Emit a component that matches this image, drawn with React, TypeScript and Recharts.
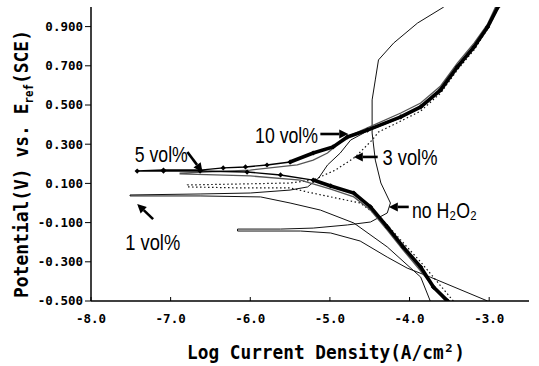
import { LineChart, Line, XAxis, YAxis, ReferenceLine, ReferenceDot } from 'recharts';

const X_TICKS = [-8, -7, -6, -5, -4, -3];
const Y_TICKS = [-0.5, -0.3, -0.1, 0.1, 0.3, 0.5, 0.7, 0.9];

// log i (A/cm2) and E (V vs SCE), cathodic end -> Ecorr -> anodic end
const vol10LogI = [-3.52, -3.7, -3.86, -4.08, -4.28, -4.49, -4.7, -4.99, -5.21, -5.62, -6.04, -6.63, -7.09, -7.42, -7.09, -6.63, -6.34, -6.06, -5.79, -5.5, -5.21, -4.96, -4.78, -4.53, -4.11, -3.86, -3.61, -3.4, -3.19, -3.02, -2.89];
const vol10E = [-0.5, -0.429, -0.327, -0.224, -0.122, -0.02, 0.051, 0.087, 0.117, 0.143, 0.158, 0.163, 0.163, 0.163, 0.168, 0.168, 0.179, 0.184, 0.194, 0.209, 0.255, 0.286, 0.337, 0.372, 0.439, 0.49, 0.577, 0.694, 0.796, 0.898, 1.0];

const vol5LogI = [-3.55, -3.67, -3.86, -4.08, -4.28, -4.49, -4.7, -4.99, -5.37, -6.0, -6.88, -6.88, -6.59, -6.0, -5.41, -5.21, -5.03, -4.81, -4.53, -4.11, -3.86, -3.61, -3.4, -3.19, -3.02, -2.92];
const vol5E = [-0.5, -0.444, -0.347, -0.24, -0.138, -0.036, 0.031, 0.071, 0.117, 0.138, 0.148, 0.153, 0.158, 0.168, 0.194, 0.219, 0.255, 0.332, 0.383, 0.459, 0.51, 0.597, 0.714, 0.816, 0.913, 1.0];

const vol3LogI = [-3.45, -3.65, -3.86, -4.11, -4.36, -4.62, -4.93, -5.28, -5.5, -6.13, -6.79, -6.79, -6.13, -5.5, -5.21, -4.93, -4.68, -4.47, -4.39, -4.11, -3.86, -3.61, -3.4, -3.19, -3.02, -2.89];
const vol3E = [-0.5, -0.403, -0.301, -0.189, -0.077, 0.0, 0.026, 0.056, 0.077, 0.077, 0.082, 0.092, 0.097, 0.102, 0.117, 0.168, 0.235, 0.321, 0.362, 0.418, 0.469, 0.561, 0.679, 0.781, 0.888, 0.99];

const vol1LogI = [-3.74, -3.86, -4.28, -4.7, -5.12, -5.5, -5.87, -6.63, -7.51, -7.51, -6.63, -6.0, -5.5, -5.28, -5.14, -5.03, -4.87, -4.74, -4.53, -4.11, -3.86, -3.61, -3.4, -3.19, -3.02, -2.89];
const vol1E = [-0.5, -0.378, -0.224, -0.102, -0.036, 0.0, 0.031, 0.036, 0.036, 0.041, 0.046, 0.051, 0.066, 0.082, 0.128, 0.194, 0.255, 0.321, 0.367, 0.434, 0.485, 0.571, 0.689, 0.791, 0.893, 0.995];

const noneLogI = [-3.02, -3.74, -4.03, -4.28, -4.62, -4.99, -5.37, -6.16, -6.16, -5.62, -5.21, -4.78, -4.49, -4.28, -4.24, -4.36, -4.43, -4.47, -4.47, -4.43, -4.39, -4.2, -3.9, -3.57];
const noneE = [-0.5, -0.378, -0.332, -0.276, -0.194, -0.153, -0.143, -0.143, -0.133, -0.133, -0.128, -0.112, -0.097, -0.051, 0.0, 0.102, 0.219, 0.357, 0.526, 0.628, 0.73, 0.816, 0.918, 1.0];

const toPoints = (xs: number[], ys: number[]) => xs.map((x, i) => ({ x, y: ys[i] }));

const vol10 = toPoints(vol10LogI, vol10E);
// the heavily marked part of the 10 vol% curve looks bold; the low-current tail is thin
const vol10Bold = vol10.map((p) => ({ x: p.x, y: p.x >= -5.6 ? p.y : null }));
const vol5 = toPoints(vol5LogI, vol5E);
const vol3 = toPoints(vol3LogI, vol3E);
const vol1 = toPoints(vol1LogI, vol1E);
const none = toPoints(noneLogI, noneE);

// curve labels: text anchor + arrow (from -> to), in data units
const notes = [
  { id: 'v5', text: '5 vol%', at: [-7.45, 0.209], from: [-6.79, 0.26], to: [-6.6, 0.158], w: 53 },
  { id: 'v10', text: '10 vol%', at: [-5.94, 0.306], from: [-5.12, 0.352], to: [-4.77, 0.352], w: 63 },
  { id: 'v3', text: '3 vol%', at: [-4.34, 0.194], from: [-4.4, 0.235], to: [-4.7, 0.235], w: 55 },
  { id: 'v1', text: '1 vol%', at: [-7.57, -0.24], from: [-7.22, -0.082], to: [-7.42, -0.005], w: 55 },
  { id: 'v0', text: 'no H₂O₂', at: [-3.97, -0.077], from: [-4.01, -0.02], to: [-4.26, -0.02], w: 65 },
];

const NOTE_FONT = "'Liberation Sans Narrow', 'Liberation Sans', Arial, sans-serif";
const AXIS_FONT = "'DejaVu Sans Mono', monospace";

const Diamond = (p: any) => {
  const { cx, cy, index } = p;
  if (cx == null || cy == null) return <g key={`d-${index}`} />;
  const s = 2.6;
  return (
    <path
      key={`d-${index}`}
      d={`M${cx - s} ${cy}L${cx} ${cy - s}L${cx + s} ${cy}L${cx} ${cy + s}Z`}
      fill="#000"
    />
  );
};

const Arrow = (p: any) => {
  const { x1, y1, x2, y2 } = p;
  const ang = Math.atan2(y2 - y1, x2 - x1);
  const len = 9;
  const hw = 4.5;
  const bx = x2 - len * Math.cos(ang);
  const by = y2 - len * Math.sin(ang);
  const px = -Math.sin(ang) * hw;
  const py = Math.cos(ang) * hw;
  return (
    <g>
      <line x1={x1} y1={y1} x2={bx} y2={by} stroke="#000" strokeWidth={2.6} />
      <path d={`M${x2} ${y2}L${bx + px} ${by + py}L${bx - px} ${by - py}Z`} fill="#000" />
    </g>
  );
};

function noteText(text: string, w: number) {
  return (p: any) => (
    <text x={p.cx} y={p.cy} fontFamily={NOTE_FONT} fontSize={22} fill="#000" textLength={w} lengthAdjust="spacingAndGlyphs">
      {text}
    </text>
  );
}

function YTitle(props: any) {
  const vb = props.viewBox ?? { x: 0, y: 7, width: 91, height: 294 };
  const cx = vb.x + 28;
  const cy = vb.y + vb.height / 2 + 10;
  return (
    <text
      x={cx}
      y={cy}
      transform={`rotate(-90 ${cx} ${cy})`}
      textAnchor="middle"
      fontFamily={AXIS_FONT}
      fontWeight="bold"
      fontSize={20}
      textLength={268}
      lengthAdjust="spacingAndGlyphs"
      fill="#000"
    >
      Potential(V) vs. E<tspan fontSize={12} dy={5}>ref</tspan>
      <tspan dy={-5}>(SCE)</tspan>
    </text>
  );
}

function XTitle(props: any) {
  const vb = props.viewBox ?? { x: 91, y: 301, width: 438, height: 65 };
  const cx = vb.x + vb.width / 2 + 16;
  const cy = vb.y + 58;
  return (
    <text
      x={cx}
      y={cy}
      textAnchor="middle"
      fontFamily={AXIS_FONT}
      fontWeight="bold"
      fontSize={20}
      textLength={278}
      lengthAdjust="spacingAndGlyphs"
      fill="#000"
    >
      Log Current Density(A/cm²)
    </text>
  );
}

const tickStyle = { fill: '#000', fontSize: 12.5, fontFamily: AXIS_FONT, fontWeight: 'bold' };

export default function App() {
  return (
    <div style={{ position: 'absolute', left: 0, top: 0, background: '#fff' }}>
      <LineChart width={539} height={366} margin={{ top: 7, right: 10, bottom: 0, left: 0 }}>
        <XAxis
          type="number"
          dataKey="x"
          domain={[-8, -2.5]}
          ticks={X_TICKS}
          interval={0}
          allowDataOverflow
          tickFormatter={(v: number) => v.toFixed(1)}
          height={65}
          tickSize={-4}
          tickMargin={17}
          tick={tickStyle}
          tickLine={{ stroke: '#000' }}
          axisLine={{ stroke: '#000', strokeWidth: 1.5 }}
          label={{ content: (p: any) => <XTitle {...p} /> }}
        />
        <XAxis
          xAxisId="top"
          orientation="top"
          type="number"
          domain={[-8, -2.5]}
          height={0}
          tick={false}
          tickLine={false}
          axisLine={{ stroke: '#333' }}
        />
        <YAxis
          type="number"
          domain={[-0.5, 1]}
          ticks={Y_TICKS}
          interval={0}
          allowDataOverflow
          tickFormatter={(v: number) => v.toFixed(3)}
          width={91}
          tickSize={6}
          tickMargin={2}
          tick={tickStyle}
          tickLine={{ stroke: '#000' }}
          axisLine={{ stroke: '#000', strokeWidth: 1.5 }}
          label={{ content: (p: any) => <YTitle {...p} /> }}
        />
        <YAxis
          yAxisId="right"
          orientation="right"
          type="number"
          domain={[-0.5, 1]}
          width={0}
          tick={false}
          tickLine={false}
          axisLine={{ stroke: '#333' }}
        />

        <Line data={none} dataKey="y" type="linear" stroke="#111" strokeWidth={1} dot={false} isAnimationActive={false} />
        <Line data={vol1} dataKey="y" type="linear" stroke="#111" strokeWidth={1} dot={false} isAnimationActive={false} />
        <Line data={vol3} dataKey="y" type="linear" stroke="#111" strokeWidth={1.2} strokeDasharray="1.5 2.5" dot={false} isAnimationActive={false} />
        <Line data={vol5} dataKey="y" type="linear" stroke="#555" strokeWidth={1.3} dot={false} isAnimationActive={false} />
        <Line data={vol10Bold} dataKey="y" type="linear" stroke="#000" strokeWidth={3.6} dot={false} connectNulls={false} isAnimationActive={false} />
        <Line data={vol10} dataKey="y" type="linear" stroke="#000" strokeWidth={1.4} dot={Diamond} isAnimationActive={false} />

        {notes.map((n) => (
          <ReferenceLine
            key={`a-${n.id}`}
            segment={[{ x: n.from[0], y: n.from[1] }, { x: n.to[0], y: n.to[1] }]}
            shape={Arrow}
          />
        ))}
        {notes.map((n) => (
          <ReferenceDot key={`t-${n.id}`} x={n.at[0]} y={n.at[1]} r={0} shape={noteText(n.text, n.w)} />
        ))}
      </LineChart>
    </div>
  );
}
